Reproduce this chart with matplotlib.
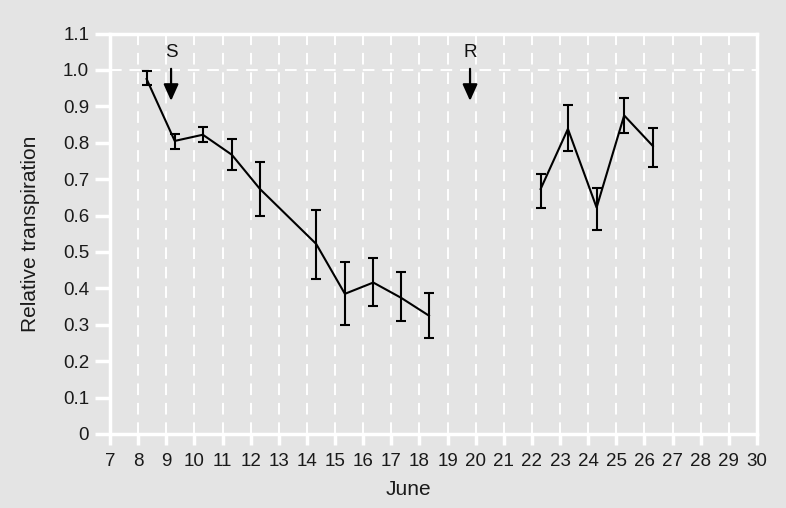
import matplotlib
matplotlib.use("Agg")
import matplotlib.pyplot as plt
import numpy as np

plt.rcParams['font.family'] = ['Liberation Sans', 'DejaVu Sans']

# Data
days1 = [8.3, 9.3, 10.3, 11.33, 12.33, 14.33, 15.35, 16.36, 17.35, 18.34]
vals1 = [0.975, 0.805, 0.822, 0.767, 0.673, 0.522, 0.385, 0.416, 0.374, 0.325]
err_lo1 = [0.017, 0.022, 0.02, 0.042, 0.075, 0.095, 0.085, 0.064, 0.063, 0.061]
err_hi1 = [0.023, 0.018, 0.021, 0.043, 0.075, 0.093, 0.087, 0.067, 0.072, 0.062]

days2 = [22.31, 23.28, 24.3, 25.28, 26.3]
vals2 = [0.673, 0.838, 0.622, 0.875, 0.791]
err_lo2 = [0.052, 0.06, 0.063, 0.049, 0.057]
err_hi2 = [0.041, 0.066, 0.055, 0.047, 0.05]

xticks = list(range(7, 31))
yticks = [0, 0.1, 0.2, 0.3, 0.4, 0.5, 0.6, 0.7, 0.8, 0.9, 1.0, 1.1]
yticklabels = ['0', '0.1', '0.2', '0.3', '0.4', '0.5', '0.6', '0.7', '0.8', '0.9', '1.0', '1.1']

markers = [("S", 9.17), ("R", 19.8)]

bg = '#e4e4e4'
fig = plt.figure(figsize=(7.86, 5.08), dpi=100, facecolor=bg)
ax = fig.add_axes([0.14, 0.1457, 0.823, 0.7883], facecolor=bg)

ax.set_xlim(7, 30)
ax.set_ylim(0, 1.1)

# dashed vertical grid
for d in xticks[1:-1]:
    ax.axvline(d, color='white', lw=1.4, ls=(0, (6, 4)), zorder=1)
ax.axhline(1.0, color='white', lw=1.4, ls=(0, (6, 4)), zorder=1)

for days, vals, lo, hi in [(days1, vals1, err_lo1, err_hi1), (days2, vals2, err_lo2, err_hi2)]:
    ax.errorbar(days, vals, yerr=[lo, hi], color='black', lw=1.5, elinewidth=1.5,
                capsize=3.5, capthick=1.5, zorder=3)

for lab, xd in markers:
    ax.annotate('', xy=(xd, 0.915), xytext=(xd, 1.003),
                arrowprops=dict(arrowstyle='-|>,head_length=1.0,head_width=0.45',
                                color='black', lw=1.6, shrinkA=0, shrinkB=0), zorder=4)
    ax.text(xd, 1.047, lab, ha='center', va='center', fontsize=13.5, color='#111111')

for s in ax.spines.values():
    s.set_color('white')
    s.set_linewidth(2.5)

ax.set_xticks(xticks)
ax.set_xticklabels([str(x) for x in xticks])
ax.set_yticks(yticks)
ax.set_yticklabels(yticklabels)
ax.tick_params(axis='both', colors='white', width=2.5, labelsize=13.5,
               labelcolor='#1a1a1a', direction='out')
ax.tick_params(axis='x', length=8, pad=6)
ax.tick_params(axis='y', length=11, pad=4)

ax.set_xlabel('June', fontsize=15, color='#1a1a1a')
ax.xaxis.set_label_coords((408 - 110) / 647, -0.115)
ax.set_ylabel('Relative transpiration', fontsize=15, color='#1a1a1a')
ax.yaxis.set_label_coords(-0.108, 0.5)

fig.savefig('out.png', dpi=100, facecolor=bg)
